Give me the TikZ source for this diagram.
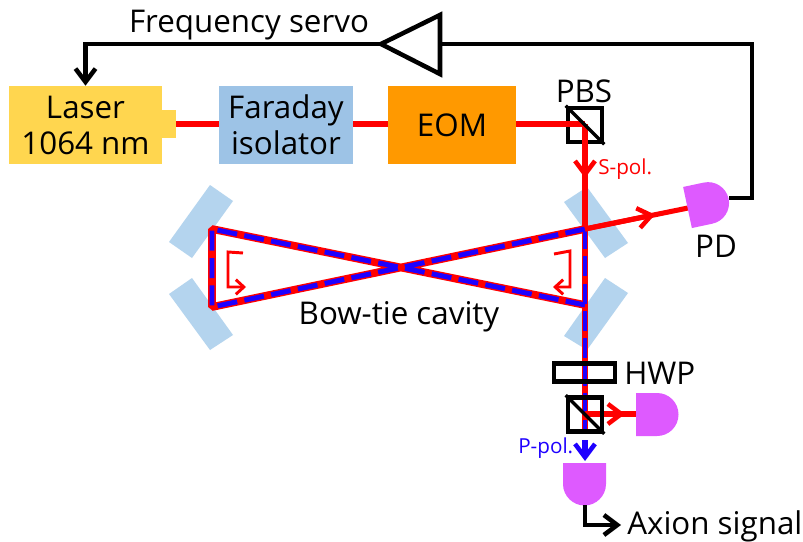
\documentclass[tikz,border=0pt]{standalone}
\usepackage{fontspec}
\setmainfont{Open Sans}
\usetikzlibrary{arrows.meta,calc}
\definecolor{laserc}{RGB}{255,214,79}
\definecolor{farc}{RGB}{157,195,230}
\definecolor{eomc}{RGB}{255,153,0}
\definecolor{mirc}{RGB}{180,212,238}
\definecolor{pdc}{RGB}{222,90,255}
\definecolor{redb}{RGB}{255,0,0}
\definecolor{blueb}{RGB}{30,0,255}
\tikzset{
  x=0.75pt,y=-0.75pt,
  lab/.style={font=\fontsize{23.5}{28}\selectfont,text=black,inner sep=0pt,align=center},
  small/.style={font=\fontsize{15.5}{18}\selectfont,inner sep=0pt},
  block/.style={inner sep=0pt,minimum height=58.5pt,font=\fontsize{23.5}{28}\selectfont,align=center,text=black},
  optic/.style={draw=black,line width=3.4pt,inner sep=0pt,fill=none},
  mirror/.style={fill=mirc},
  pdfill/.style={fill=pdc},
  redbeam/.style={draw=redb,line width=4.2pt},
  thinbeam/.style={draw=redb,line width=3.8pt},
  bluedash/.style={draw=blueb,line width=3.7pt,dash pattern=on 15pt off 5.5pt},
  sig/.style={draw=black,line width=3.4pt},
  tipk/.style={-{Straight Barb[length=10pt,width=15pt,line width=3.4pt]}},
  tipr/.style={-{Straight Barb[length=10pt,width=15pt,line width=3.4pt]}},
  minitip/.style={-{Straight Barb[length=6pt,width=11pt,line width=2.2pt]}},
}
\begin{document}
\begin{tikzpicture}
\useasboundingbox (0,0) rectangle (803,542);
\fill[white] (0,0) rectangle (803,542);

% mirrors
\fill[mirror] (587,187) -- (628,243) -- (605,258) -- (564,202) -- cycle;
\fill[mirror] (605,278) -- (628,293) -- (587,350) -- (564,336) -- cycle;
\fill[mirror] (210,185) -- (233,201) -- (192,258) -- (169,242) -- cycle;
\fill[mirror] (192,278) -- (233,335) -- (210,350) -- (169,294) -- cycle;

% blocks
\fill[laserc] (162,110) rectangle (176,138);
\node[block,fill=laserc,minimum width=114.75pt] (laser) at (85.5,125) {Laser\\[-1pt]1064 nm};
\coordinate (lasertab) at (176,124);
\node[block,fill=farc,minimum width=100.5pt] (faraday) at (286,125) {Faraday\\[-1pt]isolator};
\node[block,fill=eomc,minimum width=96pt] (eom) at (452,125) {EOM};
\node[optic,minimum size=25.5pt] (pbs) at (585,125) {};
\coordinate (pbsc) at (585,124);

% anchors
\coordinate (M1) at (585,229);
\coordinate (M2) at (585,305);
\coordinate (M3) at (212,229);
\coordinate (M4) at (212,307);
\coordinate (spolmid) at (585,178);
\coordinate (pdtopin) at (688,208);
\coordinate (pdtopmid) at (655,214.6);
\coordinate (vend) at (585,432);
\coordinate (blue0) at (585,440);
\coordinate (blue1) at (585,461);
\coordinate (split) at (585,414);
\coordinate (splitmid) at (625,414);
\coordinate (pdrin) at (636,414);

% red input beams
\draw[redbeam] (lasertab) -- (faraday.west |- lasertab);
\draw[redbeam] (faraday.east |- lasertab) -- (eom.west |- lasertab);
\draw[redbeam] (eom.east |- lasertab) -- (pbsc);
\draw[thinbeam] (pbsc) -- (M1);
\draw[thinbeam,tipr] (585,150) -- (spolmid);

% cavity
\draw[redbeam,line width=5.8pt,line join=bevel] (M2) -- (M3) -- (M4) -- (M1);
\draw[thinbeam] (M1) -- (vend);
\draw[bluedash,line join=bevel] (M1) -- (M4) -- (M3) -- (M2);
\draw[bluedash] (M1) -- (vend);
\draw[thinbeam] (M1) -- (pdtopin);
\draw[thinbeam,tipr] (M1) -- (pdtopmid);

% small direction marks
\draw[redb,line width=2.2pt,minitip] (243,253) -- (228,252) -- (228,287) -- (246,287);
\draw[redb,line width=2.2pt,minitip] (554,254) -- (570,251) -- (570,287) -- (553,287);

% HWP, cube, second split
\node[optic,minimum width=46pt,minimum height=13.5pt] (hwp) at (584.5,372.5) {};
\draw[thinbeam] (split) -- (pdrin);
\draw[thinbeam,tipr] (split) -- (splitmid);
\node[optic,minimum size=25.5pt] (cube) at (585,414.5) {};
\draw[line width=2.5pt,black] (pbs.north west) -- (pbs.south east);
\draw[line width=2.5pt,black] (cube.north west) -- (cube.south east);
\draw[draw=blueb,line width=3.8pt,tipr] (blue0) -- (blue1);

% photodiodes
\begin{scope}[shift={(687.5,207.5)},rotate=12]
\fill[pdfill] (0,-21) -- (21,-21) .. controls (32.6,-21) and (42,-11.6) .. (42,0) .. controls (42,11.6) and (32.6,21) .. (21,21) -- (0,21) -- cycle;
\end{scope}
\coordinate (pdtopout) at (729,198);
\fill[pdfill] (636,393) -- (657,393) .. controls (669,393) and (678.5,402.6) .. (678.5,414.5) .. controls (678.5,426.4) and (669,436) .. (657,436) -- (636,436) -- cycle;
\fill[pdfill] (563,463) -- (606,463) -- (606,484) .. controls (606,496) and (596,505.5) .. (584.5,505.5) .. controls (573,505.5) and (563,496) .. (563,484) -- cycle;
\coordinate (pdbout) at (585,505);

% servo loop
\coordinate (ampin) at (440,44);
\coordinate (ampout) at (381,44);
\draw[sig,line join=miter] (ampout) -- (440,15) -- (440,74) -- cycle;
\draw[sig] (pdtopout) -- (752,198) -- (752,44) -- (ampin);
\draw[sig,tipk] (ampout) -- (85.5,44) -- (laser.north);
\coordinate (axtip) at (621,525);
\draw[sig,tipk] (pdbout) -- (585,525) -- (axtip);

% labels
\node[lab] (t1) at (249,25) {Frequency servo};
\node[lab] (t2) at (584,91) {PBS};
\node[lab] (t3) at (716,246) {PD};
\node[lab] (t4) at (399,317) {Bow-tie cavity};
\node[lab,anchor=west] (t5) at (624,373) {HWP};
\node[lab,anchor=west] (t6) at (627,526) {Axion signal};
\node[small,text=redb,anchor=west] (t7) at (598,169) {S-pol.};
\node[small,text=blueb,anchor=west] (t8) at (518,448) {P-pol.};
\end{tikzpicture}
\end{document}
